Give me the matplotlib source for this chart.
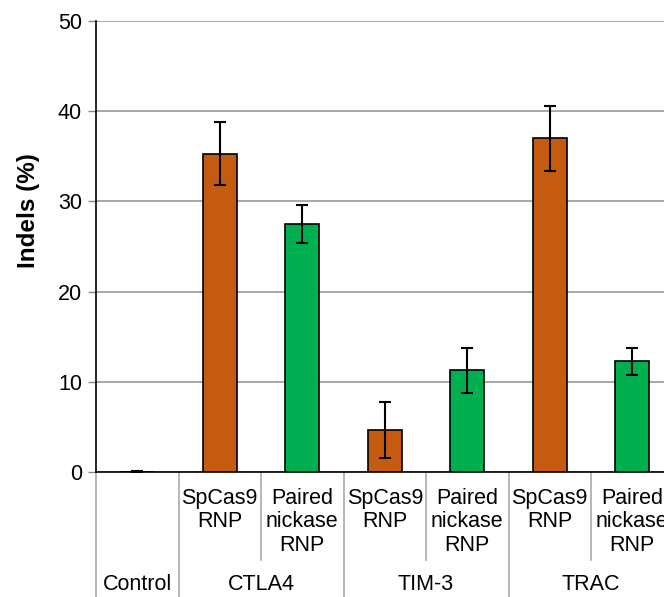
import matplotlib.pyplot as plt

plt.rcParams['font.family'] = ['Liberation Sans', 'DejaVu Sans']

# indel frequencies (mean and error) per condition
conditions = ['', 'SpCas9\nRNP', 'Paired\nnickase\nRNP', 'SpCas9\nRNP',
              'Paired\nnickase\nRNP', 'SpCas9\nRNP', 'Paired\nnickase\nRNP']
indels = [0.0, 35.3, 27.5, 4.7, 11.3, 37.0, 12.3]
errors = [0.1, 3.5, 2.1, 3.1, 2.5, 3.6, 1.5]
groups = ['Control', 'CTLA4', 'TIM-3', 'TRAC']
group_sizes = [1, 2, 2, 2]

orange = '#C55A11'
green = '#00B050'
colors = [orange] + [orange, green] * 3

W, H = 664, 597
fig = plt.figure(figsize=(W / 100, H / 100), dpi=100)
# plot area runs a little past the right edge of the figure
ax = fig.add_axes([96 / W, (H - 472) / H, 577.5 / W, 451 / H])

x = list(range(len(indels)))
ax.bar(x, indels, width=0.41, color=colors, edgecolor='black', linewidth=1.2, zorder=3)
ax.errorbar(x, indels, yerr=errors, fmt='none', ecolor='black', elinewidth=1.5,
            capsize=4, capthick=1.5, zorder=4)

ax.set_xlim(-0.5, len(indels) - 0.5)
ax.set_ylim(0, 50)
ax.set_yticks(range(0, 51, 10))
ax.yaxis.grid(True, color='#999999', linewidth=1.2, zorder=0)
ax.set_xticks([])
ax.tick_params(axis='y', labelsize=15.5, length=6, width=1, color='#888888', pad=4)
for side in ['top', 'right']:
    ax.spines[side].set_visible(False)
ax.spines['left'].set_linewidth(1.2)
ax.spines['bottom'].set_linewidth(1.2)
fig.text(29 / W, 1 - 211 / H, 'Indels (%)', rotation=90, ha='center', va='center',
         fontsize=17.5, fontweight='bold')

# category table below the axis
tr = ax.get_xaxis_transform()
px = 1 / 451.0  # one pixel in axes height units
for i, lab in enumerate(conditions):
    if lab:
        ax.text(i, -16 * px, lab, transform=tr, ha='center', va='top',
                fontsize=15.5, linespacing=1.15)

edges = [-0.5]
for n in group_sizes:
    edges.append(edges[-1] + n)
for e in edges:
    ax.plot([e, e], [0, -130 * px], transform=tr, color='#aaaaaa',
            linewidth=1.2, clip_on=False)
for i in range(len(indels)):
    b = i + 0.5
    if b not in edges:
        ax.plot([b, b], [0, -88 * px], transform=tr, color='#aaaaaa',
                linewidth=1.2, clip_on=False)

start = -0.5
for name, n in zip(groups, group_sizes):
    ax.text(start + n / 2, -113 * px, name, transform=tr, ha='center',
            va='center', fontsize=15.5)
    start += n

fig.savefig('out.png', dpi=100)
